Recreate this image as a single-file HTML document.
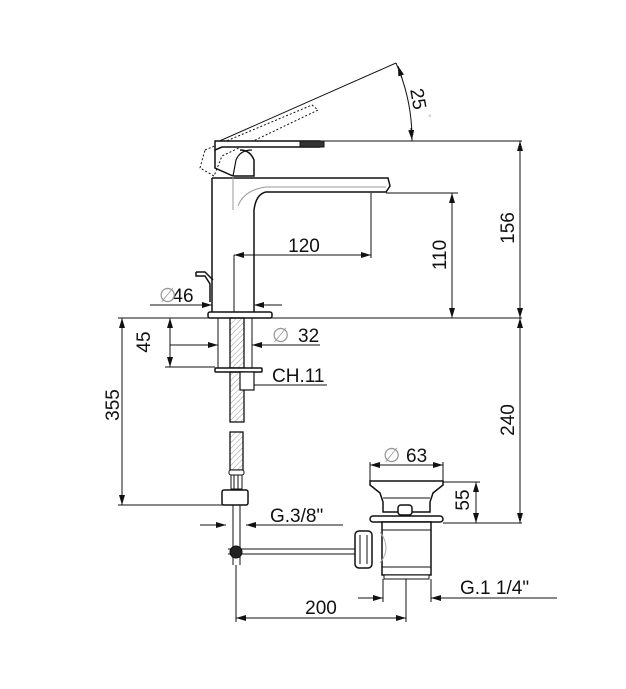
<!DOCTYPE html>
<html><head><meta charset="utf-8"><style>
html,body{margin:0;padding:0;background:#fff}
svg{display:block}
text{font-family:"Liberation Sans",Arial,sans-serif;font-size:19px;fill:#111}
</style></head><body>
<svg width="626" height="689" viewBox="0 0 626 689" xmlns="http://www.w3.org/2000/svg">
<defs>
<marker id="a" viewBox="0 0 10 6" refX="10" refY="3" markerWidth="10" markerHeight="6" orient="auto-start-reverse" markerUnits="userSpaceOnUse"><path d="M0,0 L10,3 L0,6 z" fill="#111"/></marker>
<pattern id="h" width="4" height="4" patternUnits="userSpaceOnUse" patternTransform="rotate(45)"><line x1="0" y1="0" x2="0" y2="4" stroke="#999" stroke-width="1"/></pattern>
</defs>
<g stroke="#111" stroke-width="1" fill="none">
<!-- lever dotted -->
<path d="M205,150 L312,105 L318,110 L222,156 L214,176 L200,168 Z" stroke-dasharray="2,2"/>
<line x1="215" y1="143" x2="396" y2="63"/>
<path d="M396,63 A190,190 0 0 1 412,141"/>
<line x1="398" y1="66" x2="402" y2="78" marker-start="url(#a)"/>
<line x1="411" y1="128" x2="412" y2="140" marker-end="url(#a)"/>
<!-- lever top -->
<line x1="215" y1="141" x2="522" y2="141"/>
<path d="M215,141 L320,141 Q326,144 320,147 L252,147 L222,147 L215,150 Z" fill="#fff" stroke-width="1.5"/>
<rect x="300" y="141" width="24" height="6" fill="#333"/>
<path d="M215,150 L215,168 L233,176 L254,176 L254,160 Q250,150 240,150" stroke-width="1.5"/>
<path d="M233,176 L236,160 Q240,150 252,150" stroke-width="1.2"/>
<!-- body & spout -->
<path d="M212,178 L212,312" stroke-width="1.5"/>
<path d="M212,178 L388,178 L390,186 L386,192 L266,192 Q256,194 254,210 L254,312" stroke-width="1.5"/>
<path d="M233,176 L233,210 M238,206 Q244,190 266,187 L386,187" stroke="#999"/>
<line x1="386" y1="193" x2="458" y2="193"/>
<!-- small knob -->
<path d="M196,272 L196,276 L205,276 L210,284 L210,302 M196,272 L205,272 L213,280" stroke-width="1.5"/>
<!-- base -->
<rect x="208" y="312" width="64" height="6" rx="2" fill="#fff" stroke-width="1.5"/>
<line x1="118" y1="318" x2="522" y2="318"/>
<!-- 120 -->
<line x1="371" y1="193" x2="371" y2="258"/>
<line x1="234" y1="255" x2="234" y2="312"/>
<line x1="234" y1="255" x2="371" y2="255" marker-start="url(#a)" marker-end="url(#a)"/>
<!-- 110, 156, 240 -->
<line x1="452" y1="193" x2="452" y2="318" marker-start="url(#a)" marker-end="url(#a)"/>
<line x1="520" y1="141" x2="520" y2="318" marker-start="url(#a)" marker-end="url(#a)"/>
<line x1="520" y1="318" x2="520" y2="523" marker-start="url(#a)" marker-end="url(#a)"/>
<!-- Ø46 -->
<line x1="150" y1="305" x2="212" y2="305" marker-end="url(#a)"/>
<line x1="254" y1="305" x2="282" y2="305" marker-start="url(#a)"/>
<!-- shank -->
<rect x="230" y="318" width="14" height="50" fill="url(#h)" stroke-width="1.3"/>
<line x1="218" y1="318" x2="218" y2="368"/><line x1="252" y1="318" x2="252" y2="368"/>
<rect x="215" y="368" width="47" height="4" rx="1" fill="#fff" stroke-width="1.5"/>
<rect x="230" y="372" width="14" height="50" fill="url(#h)" stroke-width="1.3"/>
<rect x="240" y="372" width="14" height="18" fill="#fff" stroke-width="1.2"/>
<!-- Ø32 -->
<line x1="170" y1="345" x2="218" y2="345" marker-end="url(#a)"/>
<line x1="252" y1="345" x2="320" y2="345" marker-start="url(#a)"/>
<!-- 45 -->
<line x1="165" y1="367" x2="215" y2="367"/>
<line x1="170" y1="318" x2="170" y2="367" marker-start="url(#a)" marker-end="url(#a)"/>
<!-- CH.11 -->
<line x1="254" y1="385" x2="327" y2="385"/>
<!-- 355 -->
<line x1="118" y1="505" x2="225" y2="505"/>
<line x1="122" y1="318" x2="122" y2="505" marker-start="url(#a)" marker-end="url(#a)"/>
<!-- lower hose -->
<rect x="230" y="432" width="13" height="38" fill="url(#h)" stroke-width="1.3"/>
<rect x="229" y="470" width="15" height="5" rx="2" fill="#fff"/>
<rect x="231" y="475" width="11" height="14" fill="#fff"/>
<line x1="234" y1="475" x2="234" y2="489"/><line x1="238" y1="475" x2="238" y2="489"/>
<rect x="222" y="490" width="26" height="15" rx="2" fill="#fff" stroke-width="1.5"/>
<line x1="233" y1="505" x2="233" y2="565"/><line x1="240" y1="505" x2="240" y2="565"/>
<!-- G.3/8 -->
<line x1="200" y1="525" x2="226" y2="525" marker-end="url(#a)"/>
<line x1="246" y1="525" x2="343" y2="525" marker-start="url(#a)"/>
<!-- rod -->
<line x1="228" y1="549" x2="355" y2="549"/><line x1="228" y1="554" x2="355" y2="554"/>
<circle cx="236" cy="552" r="6" fill="#222"/>
<!-- 200 -->
<line x1="236" y1="565" x2="236" y2="622"/>
<line x1="406" y1="578" x2="406" y2="622"/>
<line x1="236" y1="618" x2="406" y2="618" marker-start="url(#a)" marker-end="url(#a)"/>
<!-- waste -->
<path d="M370,481 L443,481 L443,485 L433,493 L430,502 L430,512 L383,512 L383,502 L380,493 L370,485 Z" fill="#fff" stroke-width="1.5"/>
<line x1="383" y1="498" x2="430" y2="498"/>
<rect x="398" y="505" width="14" height="10" rx="3" fill="#fff" stroke-width="1.5"/>
<rect x="370" y="516" width="73" height="6" rx="3" fill="#fff" stroke-width="1.5"/>
<rect x="382" y="522" width="49" height="53" fill="#fff" stroke-width="1.5"/>
<line x1="382" y1="530" x2="431" y2="530"/><line x1="382" y1="567" x2="431" y2="567"/>
<rect x="384" y="575" width="45" height="4" fill="#fff"/>
<path d="M380,532 Q392,548 380,563" stroke="#aaa"/>
<rect x="355" y="531" width="17" height="37" rx="4" fill="#fff" stroke-width="1.5"/>
<line x1="360" y1="535" x2="360" y2="564"/><line x1="367" y1="535" x2="367" y2="564"/>
<!-- Ø63 -->
<line x1="370" y1="462" x2="370" y2="481"/><line x1="443" y1="462" x2="443" y2="481"/>
<line x1="370" y1="465" x2="443" y2="465" marker-start="url(#a)" marker-end="url(#a)"/>
<!-- 55 -->
<line x1="443" y1="482" x2="480" y2="482"/>
<line x1="443" y1="523" x2="522" y2="523"/>
<line x1="476" y1="482" x2="476" y2="523" marker-start="url(#a)" marker-end="url(#a)"/>
<!-- G.1 1/4 -->
<line x1="383" y1="579" x2="383" y2="602"/><line x1="431" y1="579" x2="431" y2="602"/>
<line x1="358" y1="598" x2="383" y2="598" marker-end="url(#a)"/>
<line x1="431" y1="598" x2="557" y2="598" marker-start="url(#a)"/>
</g>
<text x="304" y="252" text-anchor="middle">120</text>
<text x="183" y="302" text-anchor="middle">46</text><text x="159" y="302" style="fill:#999;font-size:20px">∅</text>
<text x="298" y="342">32</text><text x="272" y="342" style="fill:#999;font-size:20px">∅</text>
<text x="272" y="382">CH.11</text>
<text x="270" y="522">G.3/8"</text>
<text x="406" y="462">63</text><text x="383" y="462" style="fill:#999;font-size:20px">∅</text>
<text x="460" y="594">G.1 1/4"</text>
<text x="321" y="614" text-anchor="middle">200</text>
<text transform="translate(150,342) rotate(-90)" text-anchor="middle">45</text>
<text transform="translate(119,405) rotate(-90)" text-anchor="middle">355</text>
<text transform="translate(446,255) rotate(-90)" text-anchor="middle">110</text>
<text transform="translate(514,228) rotate(-90)" text-anchor="middle">156</text>
<text transform="translate(514,420) rotate(-90)" text-anchor="middle">240</text>
<text transform="translate(469,500) rotate(-90)" text-anchor="middle">55</text>
<text transform="translate(412,100) rotate(80)" text-anchor="middle">25</text>
<text x="428" y="121" style="fill:#aaa;font-size:9px">°</text>
</svg>
</body></html>
